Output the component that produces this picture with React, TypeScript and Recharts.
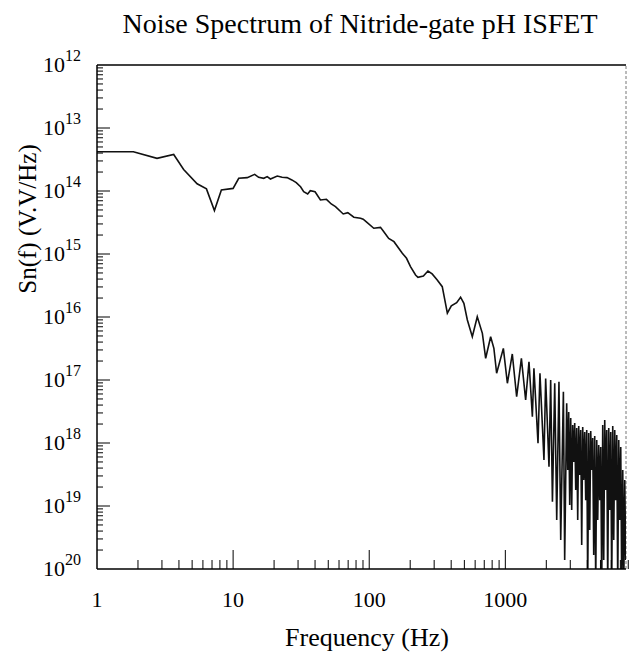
import { Line, LineChart, ReferenceLine, XAxis, YAxis } from 'recharts';

// frequency (Hz) and noise power Sn(f)
const freqHz = [
  1, 1.85, 2.76, 3.66, 4.33, 5.44, 6.37, 7.29, 8.2, 10.0,
  11.0, 12.7, 14.4, 15.4, 16.8, 17.8, 18.8, 21.1, 22.9, 24.9,
  27.0, 29.1, 31.3, 33.0, 35.3, 36.9, 40.0, 43.8, 48.5, 52.6,
  56.5, 64.4, 69.6, 77.1, 86.3, 90.3, 96.7, 108, 121, 128,
  139, 152, 175, 188, 201, 219, 228, 250, 270, 290,
  316, 344, 375, 401, 439, 469, 496, 526, 572, 622,
  678, 717, 780, 824, 863, 967, 1035, 1125, 1211, 1312,
  1410, 1492, 1580, 1622, 1738, 1796, 1922, 1978, 2093, 2153,
  2218, 2306, 2385, 2477, 2552, 2670, 2729, 2823,
  2872, 2921, 2971, 3022, 3073, 3126, 3179, 3233, 3289, 3345,
  3402, 3460, 3519, 3579, 3640, 3702, 3765, 3830, 3895, 3962,
  4029, 4098, 4168, 4239, 4312, 4385, 4460, 4536, 4614, 4693,
  4773, 4854, 4937, 5021, 5107, 5194, 5283, 5373, 5465, 5558,
  5653, 5750, 5848, 5948, 6049, 6153, 6258, 6364, 6473, 6584,
  6696, 6810, 6927, 7045, 7165, 7288, 7412, 7539, 7667,
];

const snValue = [
  4.2e-14, 4.2e-14, 3.3e-14, 3.8e-14, 2.2e-14, 1.3e-14, 1.08e-14, 4.9e-15, 1.04e-14, 1.1e-14,
  1.59e-14, 1.63e-14, 1.84e-14, 1.65e-14, 1.59e-14, 1.69e-14, 1.55e-14, 1.73e-14, 1.65e-14, 1.63e-14,
  1.5e-14, 1.36e-14, 1.17e-14, 9.75e-15, 8.95e-15, 1.01e-14, 9.75e-15, 7.2e-15, 7.38e-15, 6.22e-15,
  5.64e-15, 4.32e-15, 4.53e-15, 3.83e-15, 3.69e-15, 3.56e-15, 3.14e-15, 2.56e-15, 2.65e-15, 2.26e-15,
  1.77e-15, 1.57e-15, 1.03e-15, 8.55e-16, 6.31e-16, 4.64e-16, 4.27e-16, 4.48e-16, 5.37e-16, 4.82e-16,
  3.86e-16, 3.03e-16, 1.15e-16, 1.5e-16, 1.69e-16, 2.06e-16, 1.65e-16, 8.95e-17, 4.86e-17, 1.01e-16,
  5.51e-17, 2.21e-17, 4.86e-17, 3.18e-17, 1.28e-17, 3.18e-17, 8.87e-18, 2.59e-17, 5.43e-18, 2.21e-17,
  4.82e-18, 1.95e-17, 2.61e-18, 1.53e-17, 9.9e-19, 1.28e-17, 5.37e-19, 1.06e-17, 4.21e-19, 1.0e-17,
  1.17e-19, 8.87e-18, 6.0e-20, 9.4e-18, 2.88e-20, 6.52e-18, 1.39e-20, 4.27e-18,
  3.72e-19, 3.1e-18, 1.04e-19, 2.49e-18, 8.65e-20, 1.93e-18, 4.99e-19, 2.07e-18, 1.8e-19, 1.73e-18,
  6.0e-20, 1.86e-18, 3.1e-19, 1.61e-18, 2.4e-20, 1.79e-18, 2.59e-19, 1.5e-18, 1.24e-19, 1.61e-18,
  5e-21, 1.44e-18, 4.16e-20, 1.55e-18, 3.72e-19, 1.2e-18, 1.67e-20, 1.29e-18, 5e-21, 1.12e-18,
  6.0e-20, 9.3e-19, 1.24e-19, 8.65e-19, 5e-21, 1.93e-18, 1.39e-20, 2.32e-18, 1.8e-19, 1.61e-18,
  5e-21, 1.73e-18, 8.65e-20, 1.5e-18, 5e-21, 1.86e-18, 2.88e-20, 1.61e-18, 1.24e-19, 1.34e-18,
  5e-21, 1.12e-18, 6.0e-20, 8.65e-19, 5e-21, 3.72e-19, 5e-21, 2.59e-19, 1.39e-20,
];

const data = freqHz.map((f, i) => ({ f, sn: snValue[i] }));

// axis ticks
const xDecades = [1, 10, 100, 1000];
const xMinor = [2, 3, 4, 5, 6, 7, 8, 9];
const yDecadeExp = [12, 13, 14, 15, 16, 17, 18, 19, 20];
const yMinor = [2, 3, 4, 5, 6, 7, 8, 9];

const xTicks: number[] = [];
xDecades.forEach((d) => {
  xTicks.push(d);
  xMinor.forEach((m) => xTicks.push(d * m));
});
const yTicks: number[] = [];
yDecadeExp.forEach((e) => {
  yTicks.push(Math.pow(10, -e));
  if (e > 12) yMinor.forEach((m) => yTicks.push(m * Math.pow(10, -e)));
});

const FONT = '"Liberation Serif", "Times New Roman", serif';

const XTick = (props: any) => {
  const { x, y, payload } = props;
  const v = payload.value;
  const major = xDecades.includes(v);
  return (
    <g>
      {v > 1 && <line x1={x} x2={x} y1={y} y2={y - (major ? 19 : 9)} stroke="#000" strokeWidth={1} />}
      {major && (
        <text x={x} y={y + 38} textAnchor="middle" fontSize={22} fontFamily={FONT} fill="#000">
          {v}
        </text>
      )}
    </g>
  );
};

const YTick = (props: any) => {
  const { x, y, payload } = props;
  const v = payload.value;
  const exp = yDecadeExp.find((e) => Math.abs(Math.log10(v) + e) < 1e-6);
  const major = exp !== undefined;
  return (
    <g>
      {exp !== 12 && exp !== 20 && (
        <line x1={x} x2={x + (major ? 13 : 6)} y1={y} y2={y} stroke="#000" strokeWidth={1} />
      )}
      {major && (
        <text x={x - 16} y={y + 7} textAnchor="end" fontSize={22} fontFamily={FONT} fill="#000">
          10
          <tspan dy={-11} fontSize={16}>{exp}</tspan>
        </text>
      )}
    </g>
  );
};

export default function App() {
  return (
    <div style={{ position: 'absolute', left: 0, top: 0, width: 631, height: 662, background: '#fff' }}>
      <LineChart width={631} height={662} data={data} margin={{ top: 65, right: 5, bottom: 0, left: 0 }}>
        <XAxis
          dataKey="f"
          type="number"
          scale="log"
          domain={[1, 7700]}
          allowDataOverflow
          ticks={xTicks}
          interval={0}
          height={93}
          tickSize={0}
          tickMargin={0}
          tickLine={false}
          tick={<XTick />}
          axisLine={{ stroke: '#000', strokeWidth: 1.5 }}
        />
        <YAxis
          type="number"
          scale="log"
          domain={[1e-20, 1e-12]}
          allowDataOverflow
          ticks={yTicks}
          interval={0}
          width={97}
          tickSize={0}
          tickMargin={0}
          tickLine={false}
          tick={<YTick />}
          axisLine={{ stroke: '#000', strokeWidth: 1.5 }}
        />
        <ReferenceLine y={1e-12} stroke="#000" strokeWidth={1.5} />
        <ReferenceLine x={7700} stroke="#777" strokeWidth={1} strokeDasharray="3 2" />
        <Line
          dataKey="sn"
          type="linear"
          dot={false}
          stroke="#111"
          strokeWidth={1.6}
          isAnimationActive={false}
        />
        <text x={360} y={33} textAnchor="middle" fontSize={28} fontFamily={FONT} fill="#000">
          Noise Spectrum of Nitride-gate pH ISFET
        </text>
        <text x={367} y={646} textAnchor="middle" fontSize={26} fontFamily={FONT} fill="#000">
          Frequency (Hz)
        </text>
        <text
          x={27}
          y={219}
          textAnchor="middle"
          dominantBaseline="central"
          fontSize={25}
          fontFamily={FONT}
          fill="#000"
          transform="rotate(-90 27 219)"
        >
          Sn(f) (V.V/Hz)
        </text>
      </LineChart>
    </div>
  );
}
